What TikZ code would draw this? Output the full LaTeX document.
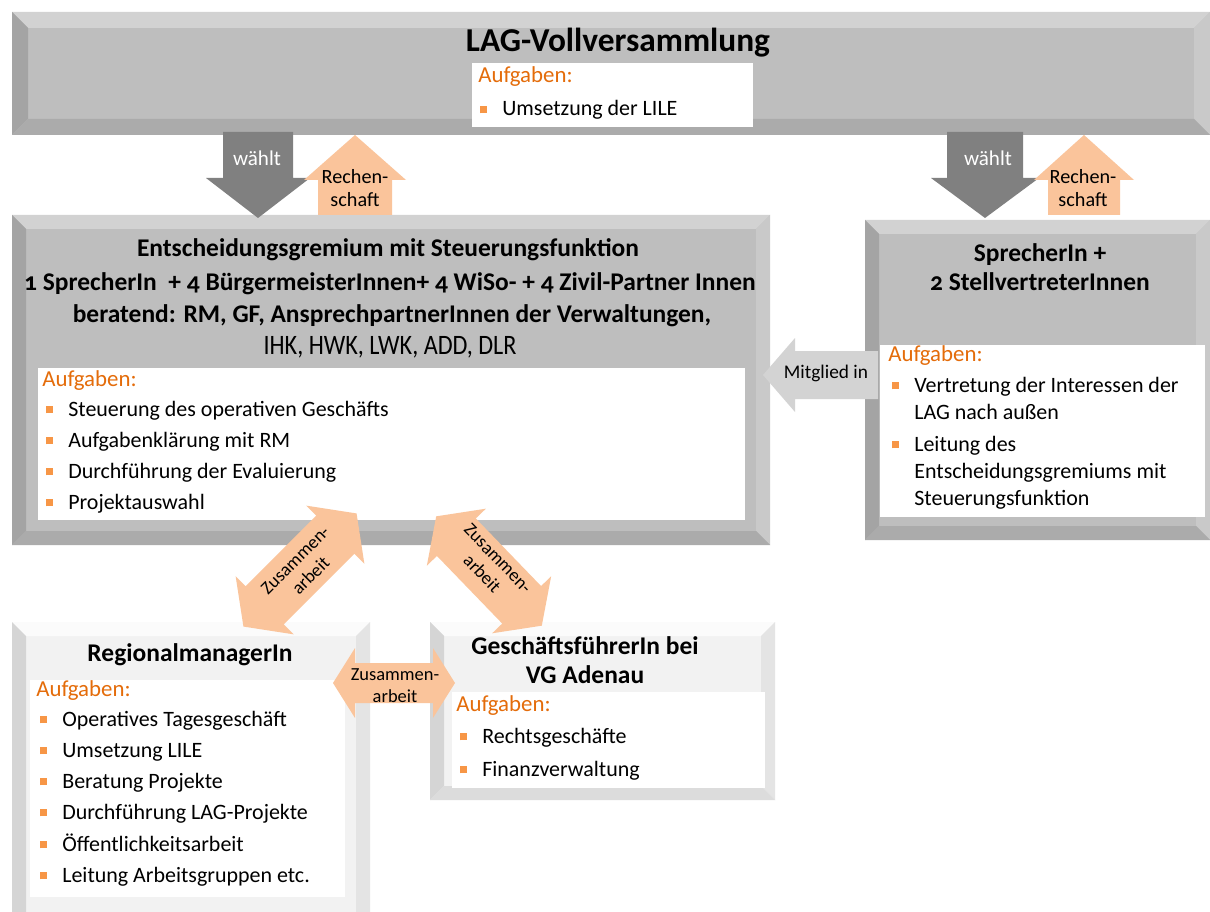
\documentclass[tikz,border=0pt]{standalone}
\usepackage{fontspec}
\setmainfont{Carlito}[Numbers=OldStyle]
\usetikzlibrary{calc,fit}
\definecolor{boxgray}{HTML}{BEBEBE}
\definecolor{bevtop}{HTML}{D2D2D2}
\definecolor{bevleft}{HTML}{A4A4A4}
\definecolor{bevright}{HTML}{C9C9C9}
\definecolor{bevbot}{HTML}{ABABAB}
\definecolor{lightbox}{HTML}{F2F2F2}
\definecolor{lbevtop}{HTML}{FBFBFB}
\definecolor{lbevleft}{HTML}{D5D5D5}
\definecolor{lbevright}{HTML}{E4E4E4}
\definecolor{lbevbot}{HTML}{DCDCDC}
\definecolor{peach}{HTML}{FAC49B}
\definecolor{darkarrow}{HTML}{808080}
\definecolor{mitgl}{HTML}{D3D3D3}
\definecolor{orangetxt}{HTML}{E46C0A}
\definecolor{bulletor}{HTML}{F79646}
\definecolor{inwhite}{HTML}{FFFFFF}
\newcommand\bul{\makebox[12.5pt][l]{\textcolor{bulletor}{\rule[0.12em]{4pt}{4pt}}}}
\newcommand\bevel[6]{%
  \fill[#3] (#1.north west) -- (#1.north east) -- ($(#1.north east)+(-#2,#2)$) -- ($(#1.north west)+(#2,#2)$) -- cycle;
  \fill[#4] (#1.north west) -- ($(#1.north west)+(#2,#2)$) -- ($(#1.south west)+(#2,-#2)$) -- (#1.south west) -- cycle;
  \fill[#5] (#1.north east) -- ($(#1.north east)+(-#2,#2)$) -- ($(#1.south east)+(-#2,-#2)$) -- (#1.south east) -- cycle;
  \fill[#6] (#1.south west) -- ($(#1.south west)+(#2,-#2)$) -- ($(#1.south east)+(-#2,-#2)$) -- (#1.south east) -- cycle;}
% vertical block arrow: colour, cx, ytail, ybase, ytip, shaft half, head half
\newcommand\vArrow[7]{%
  \fill[#1] (#2-#6,#3) -- (#2+#6,#3) -- (#2+#6,#4) -- (#2+#7,#4) -- (#2,#5) -- (#2-#7,#4) -- (#2-#6,#4) -- cycle;}
% double arrow along local x: colour, half length, head length, shaft half, head half
\newcommand\dArrow[5]{%
  \fill[#1] (-#2,0) -- (-#2+#3,#5) -- (-#2+#3,#4) -- (#2-#3,#4) -- (#2-#3,#5) -- (#2,0) -- (#2-#3,-#5) -- (#2-#3,-#4) -- (-#2+#3,-#4) -- (-#2+#3,-#5) -- cycle;}
\begin{document}
\begin{tikzpicture}[x=0.02cm,y=-0.02cm,
  boxfit/.style={inner sep=0, outer sep=0, fill=#1},
  whitebox/.style={inner sep=0, outer sep=0, fill=inwhite},
  ttl/.style={font=\fontsize{14.5}{17}\selectfont\bfseries, anchor=base, inner sep=0},
  body/.style={font=\fontsize{12.5}{15}\selectfont, anchor=base west, inner sep=0},
  aufg/.style={font=\fontsize{13}{15}\selectfont, text=orangetxt, anchor=base west, inner sep=0},
  alab/.style={font=\fontsize{11.5}{13}\selectfont, align=center, inner sep=0}]
\useasboundingbox[fill=white] (0,0) rectangle (1210,912);

% ---------- LAG-Vollversammlung ----------
\node[boxfit=boxgray, fit={(12,12) (1210,135)}] (lag) {};
\bevel{lag}{16}{bevtop}{bevleft}{bevright}{bevbot}
\node[whitebox, fit={(472,63) (753,127)}] (lagin) {};
\node[ttl, font=\fontsize{19}{22}\selectfont\bfseries] (lagt) at (618,52) {LAG-Vollversammlung};
\node[aufg] (laga) at (478,83) {Aufgaben:};
\node[body] (lagb) at (480,116) {\bul Umsetzung der LILE};

% ---------- Entscheidungsgremium ----------
\node[boxfit=boxgray, fit={(12,215) (770,545)}] (eg) {};
\bevel{eg}{14}{bevtop}{bevleft}{bevright}{bevbot}
\node[whitebox, fit={(38,368) (745,520)}] (egin) {};
\node[ttl] (egt1) at (388,256) {Entscheidungsgremium mit Steuerungsfunktion};
\node[ttl] (egt2) at (390,291) {1 SprecherIn\ \ + 4 BürgermeisterInnen+ 4 WiSo- + 4 Zivil-Partner Innen};
\node[ttl] (egt3) at (392,322) {beratend: RM, GF, AnsprechpartnerInnen der Verwaltungen,};
\node[ttl, font=\fontsize{16}{18}\selectfont\addfontfeatures{FakeStretch=0.86}] (egt4) at (390,354) {IHK, HWK, LWK, ADD, DLR};
\node[aufg] (ega) at (42,386) {Aufgaben:};
\node[body] (eg1) at (46,416) {\bul Steuerung des operativen Geschäfts};
\node[body] (eg2) at (46,447) {\bul Aufgabenklärung mit RM};
\node[body] (eg3) at (46,478) {\bul Durchführung der Evaluierung};
\node[body] (eg4) at (46,509) {\bul Projektauswahl};

% ---------- SprecherIn ----------
\node[boxfit=boxgray, fit={(865,220) (1210,540)}] (sp) {};
\bevel{sp}{14}{bevtop}{bevleft}{bevright}{bevbot}
\node[whitebox, fit={(880,345) (1205,517)}] (spin) {};
\node[ttl] (spt1) at (1040,261) {SprecherIn +};
\node[ttl] (spt2) at (1040,290) {2 StellvertreterInnen};
\node[aufg] (spa) at (888,361) {Aufgaben:};
\node[body] (sp1) at (892,392) {\bul Vertretung der Interessen der};
\node[body] (sp1b) at (914,419) {LAG nach außen};
\node[body] (sp2) at (892,451) {\bul Leitung des};
\node[body] (sp2b) at (914,478) {Entscheidungsgremiums mit};
\node[body] (sp2c) at (914,505) {Steuerungsfunktion};

% ---------- RegionalmanagerIn ----------
\node[boxfit=lightbox, fit={(12,622) (370,930)}] (rm) {};
\bevel{rm}{14}{lbevtop}{lbevleft}{lbevright}{lbevbot}
\node[whitebox, fit={(30,680) (345,897)}] (rmin) {};
\node[ttl] (rmt) at (190,661) {RegionalmanagerIn};
\node[aufg] (rma) at (36,696) {Aufgaben:};
\node[body] (rm1) at (40,726) {\bul Operatives Tagesgeschäft};
\node[body] (rm2) at (40,757) {\bul Umsetzung LILE};
\node[body] (rm3) at (40,788) {\bul Beratung Projekte};
\node[body] (rm4) at (40,819) {\bul Durchführung LAG-Projekte};
\node[body] (rm5) at (40,851) {\bul Öffentlichkeitsarbeit};
\node[body] (rm6) at (40,882) {\bul Leitung Arbeitsgruppen etc.};

% ---------- GeschäftsführerIn ----------
\node[boxfit=lightbox, fit={(430,622) (775,800)}] (gf) {};
\bevel{gf}{14}{lbevtop}{lbevleft}{lbevright}{lbevbot}
\node[whitebox, fit={(452,692) (765,788)}] (gfin) {};
\node[ttl] (gft1) at (585,654) {GeschäftsführerIn bei};
\node[ttl] (gft2) at (585,683) {VG Adenau};
\node[aufg] (gfa) at (456,711) {Aufgaben:};
\node[body] (gf1) at (460,743) {\bul Rechtsgeschäfte};
\node[body] (gf2) at (460,776) {\bul Finanzverwaltung};

% ---------- arrows between LAG and boxes ----------
\vArrow{darkarrow}{258}{132}{178}{218}{35}{52}
\node[alab, text=white, font=\fontsize{12}{13}\selectfont] (w1) at (257,158) {wählt};
\vArrow{peach}{355}{215}{180}{135}{37}{51}
\node[alab] (r1) at (355,188) {Rechen-\\schaft};

\vArrow{darkarrow}{985}{132}{178}{218}{38}{54}
\node[alab, text=white, font=\fontsize{12}{13}\selectfont] (w2) at (988,158) {wählt};
\vArrow{peach}{1084}{215}{180}{135}{36}{50}
\node[alab] (r2) at (1083,188) {Rechen-\\schaft};

% ---------- Mitglied in ----------
\fill[mitgl] (763,375) -- (795,338) -- (795,351) -- (878,351) -- (878,399) -- (795,399) -- (795,412) -- cycle;
\node[alab, font=\fontsize{11}{13}\selectfont] (mi) at (826,373) {Mitglied in};

% ---------- Zusammenarbeit arrows ----------
\begin{scope}[shift={(394,683)}]
  \dArrow{peach}{61}{22}{20}{35}
\end{scope}
\node[alab, font=\fontsize{10.5}{12.5}\selectfont] (za1) at (395,686) {Zusammen-\\arbeit};

\begin{scope}[shift={(300,570)}, rotate=45]
  \dArrow{peach}{80}{30}{27}{41}
\end{scope}
\node[alab, rotate=45, font=\fontsize{10.5}{12.5}\selectfont] (za2) at (303,568) {Zusammen-\\arbeit};

\begin{scope}[shift={(489,571)}, rotate=-46]
  \dArrow{peach}{76}{29}{27}{41}
\end{scope}
\node[alab, rotate=-46, font=\fontsize{10.5}{12.5}\selectfont] (za3) at (490,566) {Zusammen-\\arbeit};
\end{tikzpicture}
\end{document}
